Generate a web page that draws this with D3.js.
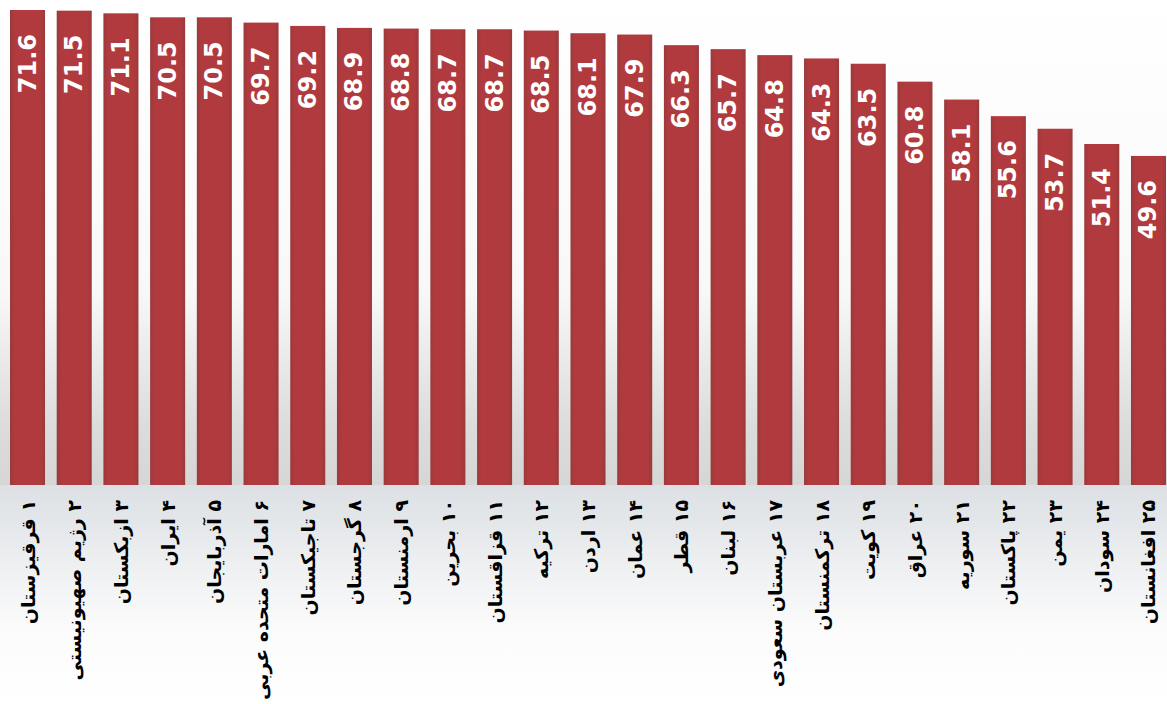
<!DOCTYPE html>
<html>
<head>
<meta charset="utf-8">
<script src="https://cdn.jsdelivr.net/npm/d3@7"></script>
<style>
  body { margin: 0; background: #fff; }
  svg { display: block; }
</style>
</head>
<body>
<script>
// categories (rank + country), left to right
const countries = [
  "۱ قرقیزستان", "۲ رژیم صهیونیستی", "۳ ازبکستان", "۴ ایران", "۵ آذربایجان",
  "۶ امارات متحده عربی", "۷ تاجیکستان", "۸ گرجستان", "۹ ارمنستان", "۱۰ بحرین",
  "۱۱ قزاقستان", "۱۲ ترکیه", "۱۳ اردن", "۱۴ عمان", "۱۵ قطر",
  "۱۶ لبنان", "۱۷ عربستان سعودی", "۱۸ ترکمنستان", "۱۹ کویت", "۲۰ عراق",
  "۲۱ سوریه", "۲۲ پاکستان", "۲۳ یمن", "۲۴ سودان", "۲۵ افغانستان"
];
const values = [
  71.6, 71.5, 71.1, 70.5, 70.5, 69.7, 69.2, 68.9, 68.8, 68.7,
  68.7, 68.5, 68.1, 67.9, 66.3, 65.7, 64.8, 64.3, 63.5, 60.8,
  58.1, 55.6, 53.7, 51.4, 49.6
];

const w = 1167;
const h = 704;
const base = 485; // baseline of bars

const data = countries.map((c, i) => ({ name: c, value: values[i] }));

var svg = d3.select("body").append("svg").attr("width", w).attr("height", h);
var defs = svg.append("defs");

// background gradients
var bgTop = defs.append("linearGradient").attr("id", "bgTop")
  .attr("x1", 0).attr("y1", 0).attr("x2", 0).attr("y2", 1);
bgTop.append("stop").attr("offset", "0%").attr("stop-color", "#ffffff");
bgTop.append("stop").attr("offset", "60%").attr("stop-color", "#f8f8f8");
bgTop.append("stop").attr("offset", "88%").attr("stop-color", "#dcdcdc");
bgTop.append("stop").attr("offset", "100%").attr("stop-color", "#d6d6d6");

var bgBot = defs.append("linearGradient").attr("id", "bgBot")
  .attr("x1", 0).attr("y1", 0).attr("x2", 0).attr("y2", 1);
bgBot.append("stop").attr("offset", "0%").attr("stop-color", "#dce0e4");
bgBot.append("stop").attr("offset", "65%").attr("stop-color", "#fbfbfb");
bgBot.append("stop").attr("offset", "100%").attr("stop-color", "#ffffff");

// bar gradient: darker edges
var barGrad = defs.append("linearGradient").attr("id", "barGrad")
  .attr("x1", 0).attr("y1", 0).attr("x2", 1).attr("y2", 0);
barGrad.append("stop").attr("offset", "0%").attr("stop-color", "#983a3c");
barGrad.append("stop").attr("offset", "12%").attr("stop-color", "#b03a3d");
barGrad.append("stop").attr("offset", "88%").attr("stop-color", "#b03a3d");
barGrad.append("stop").attr("offset", "100%").attr("stop-color", "#983a3c");

svg.append("rect").attr("x", 0).attr("y", 0).attr("width", w).attr("height", base)
  .attr("fill", "url(#bgTop)");
svg.append("rect").attr("x", 0).attr("y", base).attr("width", w).attr("height", h - base)
  .attr("fill", "url(#bgBot)");

//scales
var xScale = d3.scaleBand()
  .domain(countries)
  .range([10, 1166])
  .paddingInner(0.25)
  .paddingOuter(0);

var yScale = d3.scaleLinear()
  .domain([0, 71.6])
  .range([base, 10]);

// bars
svg.selectAll("rect.bar")
  .data(data)
  .enter()
  .append("rect")
  .attr("class", "bar")
  .attr("x", d => xScale(d.name))
  .attr("y", d => yScale(d.value))
  .attr("width", xScale.bandwidth())
  .attr("height", d => base - yScale(d.value))
  .attr("fill", "url(#barGrad)");

// value labels inside bars, rotated
svg.selectAll("text.val")
  .data(data)
  .enter()
  .append("text")
  .attr("class", "val")
  .attr("transform", d =>
    "translate(" + (xScale(d.name) + xScale.bandwidth() / 2) + "," + (yScale(d.value) + 24) + ") rotate(-90)")
  .attr("text-anchor", "end")
  .attr("dominant-baseline", "central")
  .attr("fill", "#ffffff")
  .attr("font-family", "DejaVu Sans, sans-serif")
  .attr("font-weight", "bold")
  .attr("font-size", 24)
  .text(d => d.value.toFixed(1));

// category labels under axis, rotated
var xAxis = d3.axisBottom(xScale).tickSize(0).tickPadding(0);
var gx = svg.append("g")
  .attr("class", "x-axis")
  .attr("transform", "translate(0," + base + ")")
  .call(xAxis);
gx.select(".domain").remove();
gx.selectAll(".tick text")
  .attr("transform", "translate(0,15) rotate(-90)")
  .attr("x", 0)
  .attr("y", 0)
  .attr("dy", null)
  .attr("direction", "rtl")
  .attr("text-anchor", "start")
  .attr("dominant-baseline", "central")
  .attr("fill", "#000")
  .attr("font-family", "DejaVu Sans, sans-serif")
  .attr("font-weight", "bold")
  .attr("font-size", 19);
</script>
</body>
</html>
